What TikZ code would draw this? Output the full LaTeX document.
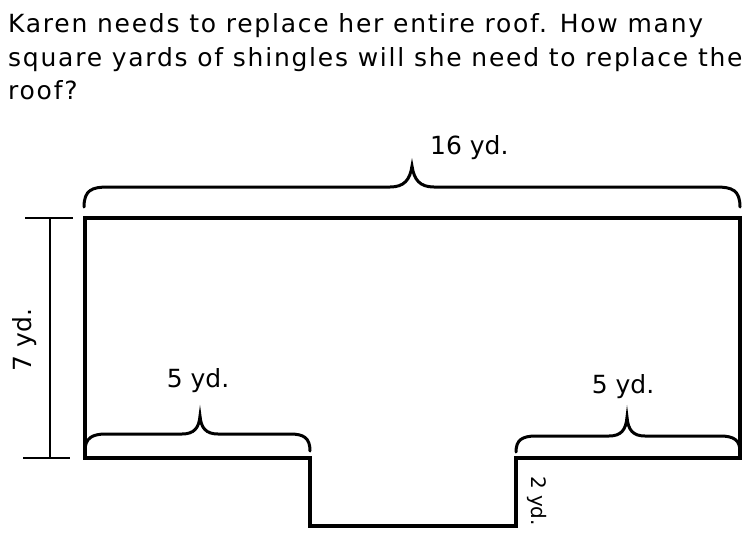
\documentclass[tikz,border=0pt]{standalone}
\usepackage{fontspec}
\setmainfont{DejaVu Sans}
\begin{document}
\begin{tikzpicture}[x=1pt,y=-1pt,
  roof/.style={line width=3.2pt,line join=miter},
  bracepath/.style={line width=3pt,line cap=round},
  dimline/.style={line width=1.5pt},
  lbl/.style={inner sep=0pt,font=\fontsize{25}{30}\selectfont},
  small/.style={inner sep=0pt,font=\fontsize{20}{24}\selectfont},
  title/.style={inner sep=0pt,anchor=base west,font=\fontsize{25}{28}\selectfont\addfontfeature{LetterSpace=7}}]
\useasboundingbox (0,0) rectangle (751,536);
% title
\node[title] (t1) at (8,32) {Karen needs to replace her entire roof. How many};
\node[title] (t2) at (8,66) {square yards of shingles will she need to replace the};
\node[title] (t3) at (8,99) {roof?};
% roof outline
\coordinate (A) at (85,218);
\coordinate (B) at (740,218);
\coordinate (C) at (740,458);
\coordinate (D) at (516,458);
\coordinate (E) at (516,526);
\coordinate (F) at (310,526);
\coordinate (G) at (310,458);
\coordinate (H) at (85,458);
\draw[roof] (A) -- (B) -- (C) -- (D) -- (E) -- (F) -- (G) -- (H) -- cycle;
% top brace
\draw[bracepath] (84,207) .. controls (84,190) and (92,187) .. (108,187)
  -- (390,187) .. controls (404,187) and (410,180) .. (412,166)
  .. controls (414,180) and (420,187) .. (434,187)
  -- (716,187) .. controls (732,187) and (740,190) .. (740,207);
\node[lbl,anchor=west] (l16) at (430,148) {16 yd.};
% bottom-left brace
\draw[bracepath] (85,451) .. controls (85,438) and (92,434) .. (106,434)
  -- (182,434) .. controls (194,434) and (199,428) .. (200,416)
  .. controls (201,428) and (206,434) .. (218,434)
  -- (290,434) .. controls (304,434) and (310,438) .. (310,451);
\node[lbl] (l5a) at (198,381) {5 yd.};
% bottom-right brace
\draw[bracepath] (516,452) .. controls (516,440) and (522,436) .. (536,436)
  -- (609,436) .. controls (621,436) and (626,430) .. (627,417)
  .. controls (628,430) and (633,436) .. (645,436)
  -- (720,436) .. controls (734,436) and (740,440) .. (740,452);
\node[lbl] (l5b) at (623,387) {5 yd.};
% 7 yd dimension
\coordinate (dt) at (50,218);
\coordinate (db) at (50,458);
\draw[dimline] (dt) -- (db);
\draw[dimline] (25,218) -- (73,218);
\draw[dimline] (23,458) -- (70,458);
\node[lbl,rotate=90] (l7) at (25,340) {7 yd.};
% 2 yd label
\node[small,rotate=-90] (l2) at (537,501) {2 yd.};
\end{tikzpicture}
\end{document}
